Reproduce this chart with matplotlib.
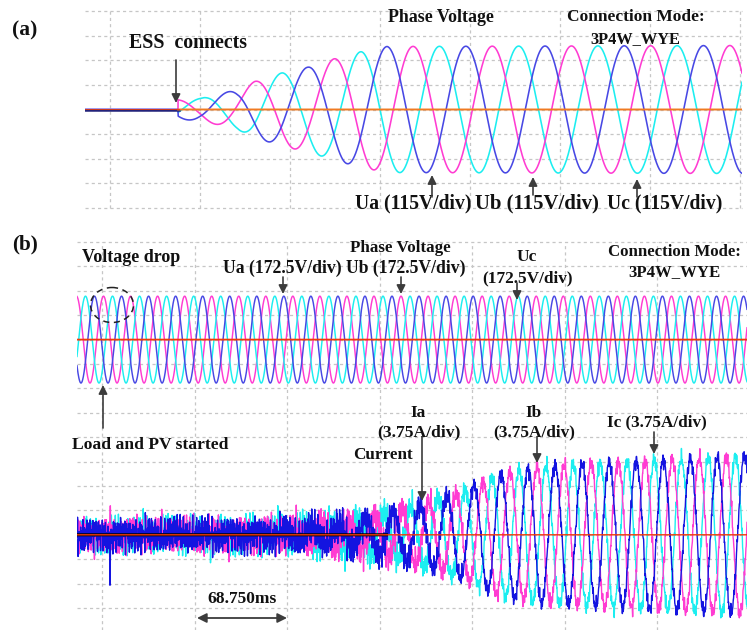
import numpy as np
import matplotlib
matplotlib.use('Agg')
import matplotlib.pyplot as plt
from matplotlib.patches import Ellipse

# ------------------------------------------------------------------ data
# Panel (a): x in scope divisions (0 = first vertical grid line), y in divisions
a_env_x = [0.756, 1.0, 1.41, 1.61, 1.92, 2.2, 2.5, 2.8, 3.08, 7.02]
a_env_amp = [0.40, 0.45, 0.80, 1.14, 1.50, 1.72, 2.07, 2.36, 2.56, 2.60]
a_start = 0.756          # ESS connects
a_period = 0.88          # divisions per cycle
a_pink_peak = 3.367      # position of a pink peak
phase_lags = [0.0, 1/3, 2/3]   # pink, cyan, blue (fraction of a period)

# Panel (b): t in ms (68.750 ms/div), y in divisions
b_v_amp = 1.78
b_period = 20.1
b_v_pink_peak = 240.8
b_i_pink_peak = 341.9
i_env_t = [0, 150, 200, 240, 285, 314, 344, 389, 426, 463, 498]
i_env_amp = [0.12, 0.20, 0.50, 1.00, 1.75, 2.50, 2.80, 2.95, 3.05, 3.15, 3.25]
noise_env_t = [0, 200, 250, 300, 498]
noise_env_amp = [0.50, 0.55, 0.40, 0.24, 0.22]
noise_freqs = [0.43, 0.71, 0.97, 1.31, 1.73]   # kHz ripple components
spike_t = [24.5]
spike_pink = [1.10]
spike_cyan = [0.0]
spike_blue = [-1.35]

# ------------------------------------------------------------------ style
FONT = ['Liberation Serif', 'DejaVu Serif']
PINK = '#ff3cd2'
CYAN = '#1ceef0'
BLUE_A = '#4848e4'
BLUE_I = '#1414e0'
ORANGE = '#f07a22'
RED = '#f03a08'
GRID = '#c6c6c6'
ARROW = '#3c3c3c'

W, H = 747, 630
fig = plt.figure(figsize=(W / 100, H / 100), dpi=100)


def px_axes(x0, x1, y0, y1):
    return fig.add_axes([x0 / W, 1 - y1 / H, (x1 - x0) / W, (y1 - y0) / H])


def style(ax, xticks, yticks, xlim, ylim):
    ax.set_xlim(*xlim)
    ax.set_ylim(*ylim)
    ax.set_xticks(xticks)
    ax.set_yticks(yticks)
    ax.tick_params(length=0, labelbottom=False, labelleft=False)
    for s in ax.spines.values():
        s.set_visible(False)
    ax.grid(True, color=GRID, linestyle=(0, (2.5, 2.5)), linewidth=0.9)
    ax.set_axisbelow(True)
    for ln in ax.get_xgridlines() + ax.get_ygridlines():
        ln.set_clip_on(False)
    ax.patch.set_alpha(0)


# ------------------------------------------------------------------ panel (a)
axa = px_axes(85, 742, 11, 208)
style(axa, np.arange(0, 8), np.arange(-4, 5), (-25 / 90, 7.022), (-4, 4))
xa = np.linspace(-25 / 90, 7.022, 6000)
env_a = np.interp(xa, a_env_x, a_env_amp) * (xa >= a_start)
pre = xa <= a_start + 0.01
cols_a = {0.0: PINK, 1/3: CYAN, 2/3: BLUE_A}
for lag in [1/3, 0.0, 2/3]:
    y = env_a * np.cos(2 * np.pi * (xa - a_pink_peak - lag * a_period) / a_period)
    axa.plot(xa, y, color=cols_a[lag], lw=1.15, zorder=3)
axa.plot(xa[pre], np.zeros(pre.sum()), color='#23237a', lw=1.8, zorder=4)
axa.plot(xa[pre], np.full(pre.sum(), 0.03), color=RED, lw=0.6, zorder=5)
post = xa >= a_start
axa.plot(xa[post], np.zeros(post.sum()), color=ORANGE, lw=1.4, zorder=4)

# ------------------------------------------------------------------ panel (b)
axb = px_axes(77, 747, 242, 630)
T_END = 670 / 1.3455
style(axb, 18.6 + 68.75 * np.arange(0, 7), -np.arange(0, 16), (0, T_END), (-388 / 24.4, 0))
tb = np.linspace(0, T_END, 9000)

# voltages
cols_b = {0.0: PINK, 1/3: CYAN, 2/3: BLUE_A}
for lag in [0.0, 1/3, 2/3]:
    v = b_v_amp * np.cos(2 * np.pi * (tb - b_v_pink_peak - lag * b_period) / b_period) - 4
    axb.plot(tb, v, color=cols_b[lag], lw=1.05, zorder=3)
axb.plot(tb, np.full_like(tb, -4), color=RED, lw=1.3, zorder=4)

# currents
env_i = np.interp(tb, i_env_t, i_env_amp)
env_n = np.interp(tb, noise_env_t, noise_env_amp)
spikes = {'pink': spike_pink, 'cyan': spike_cyan, 'blue': spike_blue}
cols_i = {0.0: PINK, 1/3: CYAN, 2/3: BLUE_I}
names = {0.0: 'pink', 1/3: 'cyan', 2/3: 'blue'}
for k, lag in enumerate([1/3, 0.0, 2/3]):
    base = env_i * np.cos(2 * np.pi * (tb - b_i_pink_peak - lag * b_period) / b_period)
    rip = np.zeros_like(tb)
    for j, f in enumerate(noise_freqs):
        rip += np.sin(2 * np.pi * f * tb + 1.7 * j * (k + 1) + 0.9 * k)
    rip = rip / len(noise_freqs) * 2.0
    sp = np.zeros_like(tb)
    for ts, h in zip(spike_t, spikes[names[lag]]):
        sp += np.interp(tb, [ts - 0.6, ts, ts + 0.6], [0, h, 0])
    axb.plot(tb, base + env_n * rip + sp - 12, color=cols_i[lag], lw=1.0, zorder=3)
nz = tb <= 230
axb.plot(tb[nz], np.full(nz.sum(), -12), color='#000000', lw=2.2, zorder=4)
axb.plot(tb, np.full_like(tb, -12), color=RED, lw=1.0, zorder=5)

# ------------------------------------------------------------------ annotations
ov = fig.add_axes([0, 0, 1, 1])
ov.set_xlim(0, W)
ov.set_ylim(H, 0)
ov.axis('off')
ov.patch.set_alpha(0)
fig.canvas.draw()
renderer = fig.canvas.get_renderer()


def fit_text(s, x0, x1, yc):
    t = ov.text(x0, yc, s, fontsize=12, ha='left', va='center', fontweight='bold',
                family=FONT, color='#111111')
    w = t.get_window_extent(renderer=renderer).width
    t.set_fontsize(12 * (x1 - x0) / w)
    return t


def ctext(s, xc, yc, size=12.5):
    ov.text(xc, yc, s, fontsize=size, ha='center', va='center', fontweight='bold',
            family=FONT, color='#111111')


def arrow(x, y_tail, y_head):
    ov.annotate('', xy=(x, y_head), xytext=(x, y_tail),
                arrowprops=dict(arrowstyle='-|>', color=ARROW, lw=1.2, mutation_scale=13,
                                shrinkA=0, shrinkB=0))


# panel (a) texts
fit_text('(a)', 12, 37, 30)
fit_text('ESS  connects', 129, 247, 43)
fit_text('Phase Voltage', 388, 493, 17)
fit_text('Connection Mode:', 567, 704, 17)
fit_text('3P4W_WYE', 590, 680, 39)
fit_text('Ua (115V/div)', 355, 471, 203)
fit_text('Ub (115V/div)', 475, 599, 203)
fit_text('Uc (115V/div)', 607, 722, 203)
arrow(176, 60, 103)
arrow(432, 197, 175)
arrow(533, 195, 177)
arrow(637, 197, 179)

# panel (b) texts
fit_text('(b)', 12, 38, 244)
fit_text('Voltage drop', 82, 180, 258)
fit_text('Phase Voltage', 350, 450, 248)
fit_text('Ua (172.5V/div) Ub (172.5V/div)', 223, 465, 268)
ctext('Uc', 527, 257)
fit_text('(172.5V/div)', 482, 573, 278)
fit_text('Connection Mode:', 608, 740, 252)
fit_text('3P4W_WYE', 628, 720, 272)
fit_text('Load and PV started', 72, 226, 445)
ctext('Ia', 418, 413)
fit_text('(3.75A/div)', 377, 460, 432)
fit_text('Current', 353, 412, 455)
ctext('Ib', 534, 413)
fit_text('(3.75A/div)', 493, 575, 432)
fit_text('Ic (3.75A/div)', 607, 707, 422)
fit_text('68.750ms', 207, 276, 599)
arrow(283, 277, 294)
arrow(401, 277, 294)
arrow(517, 283, 300)
arrow(103, 428, 385)
arrow(422, 437, 501)
arrow(537, 437, 463)
arrow(654, 432, 454)
ov.annotate('', xy=(197, 618), xytext=(287, 618),
            arrowprops=dict(arrowstyle='<|-|>', color=ARROW, lw=1.3, mutation_scale=14,
                            shrinkA=0, shrinkB=0))
ov.add_patch(Ellipse((112, 305), 43, 35, fill=False, ls=(0, (4, 3)), ec='#222222', lw=1.1))

fig.savefig('out.png', dpi=100)
